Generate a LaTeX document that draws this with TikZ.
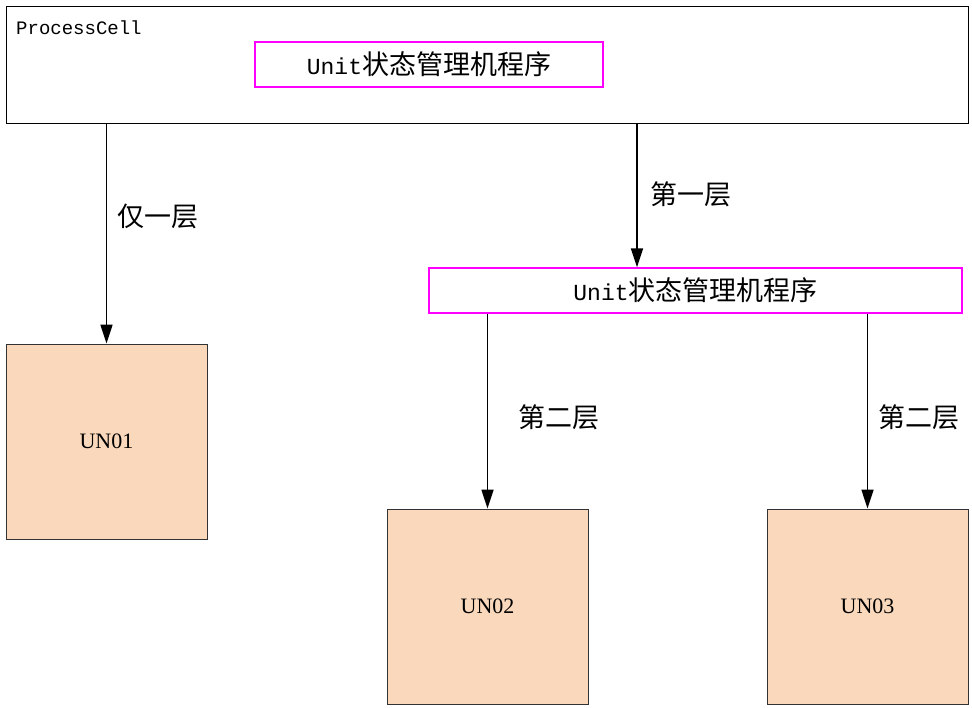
\documentclass[tikz,border=0pt]{standalone}
\usepackage{fontspec}
\setmainfont{Liberation Serif}
\setmonofont{Liberation Mono}
\newfontfamily\cjk{Noto Sans CJK SC}
\usepackage{tikz}
\usetikzlibrary{arrows.meta}
\definecolor{peach}{RGB}{249,216,187}
\definecolor{pinkline}{RGB}{255,0,255}
\newcommand{\prgname}{{\ttfamily\fontsize{23}{27}\selectfont Unit}{\cjk\fontsize{27}{32}\selectfont 状态管理机程序}}
\tikzset{
  cellbox/.style={draw, line width=0.9pt, minimum width=962pt, minimum height=117pt, inner sep=0pt},
  prgbox/.style={draw=pinkline, line width=1.3pt, minimum height=45pt, inner sep=0pt},
  unitbox/.style={draw=black!80, line width=0.9pt, fill=peach, minimum width=201pt, minimum height=195pt, inner sep=0pt, font=\fontsize{22}{26}\selectfont},
  lvl/.style={-{Triangle[length=19pt,width=12pt]}, line width=1.6pt},
  lvltxt/.style={anchor=west, inner sep=0pt, font=\cjk\fontsize{27}{32}\selectfont}
}

\begin{document}
\begin{tikzpicture}[x=1pt,y=-1pt]
\useasboundingbox (0,0) rectangle (972,708);
% process cell
\node[cellbox] (cell) at (487,64.5) {};
\node[anchor=base west, inner sep=0pt, font=\ttfamily\fontsize{19}{22}\selectfont] (cellname) at (16,35) {ProcessCell};
\node[prgbox, minimum width=348pt] (prg1) at (429,64.5) {\prgname};
% units
\node[unitbox] (un01) at (106.5,441.5) {UN01};
\node[prgbox, minimum width=533pt] (prg2) at (695.5,290.5) {\prgname};
\node[unitbox] (un02) at (487.5,606.5) {UN02};
\node[unitbox] (un03) at (867.5,606.5) {UN03};
\coordinate (tap) at (637,0);
% arrows
\draw[lvl] (un01.north |- cell.south) -- (un01.north);
\draw[lvl] (tap |- cell.south) -- (tap |- prg2.north);
\draw[lvl] (un02.north |- prg2.south) -- (un02.north);
\draw[lvl] (un03.north |- prg2.south) -- (un03.north);
% labels
\node[lvltxt] (lbl1) at (117,216) {仅一层};
\node[lvltxt] (lbl2) at (650,194) {第一层};
\node[lvltxt] (lbl3) at (518,417) {第二层};
\node[lvltxt] (lbl4) at (878,417) {第二层};
\end{tikzpicture}
\end{document}
